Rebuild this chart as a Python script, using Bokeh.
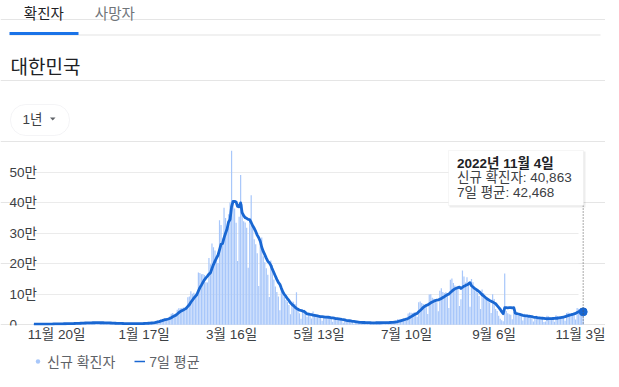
from bokeh.plotting import figure
from bokeh.layouts import column
from bokeh.models import (Range1d, FixedTicker, Label, BoxAnnotation, PolyAnnotation,
                          Arrow, Legend, LegendItem, ColumnDataSource, Grid)
from bokeh.embed import file_html
from bokeh.resources import INLINE

# day index 0 = 2021-11-05 ... 364 = 2022-11-04
new_cases = [
    2224, 2247, 1758, 1715, 2425, 2520, 2368,
    2324, 2419, 2006, 2125, 3187, 3292, 3034,
    3206, 3120, 2827, 2699, 4116, 3938, 3899,
    4068, 3928, 3308, 3032, 5123, 5266, 4944,
    5352, 5128, 4325, 4954, 7175, 7102, 7022,
    6977, 6689, 5817, 5567, 7850, 7622, 7435,
    7314, 6236, 5318, 5202, 7456, 6919, 6233,
    5842, 5419, 4207, 3865, 5409, 5037, 4875,
    4415, 3833, 3129, 3024, 4444, 4126, 3713,
    3511, 3376, 3007, 3097, 4388, 4167, 4542,
    4423, 4194, 3859, 4071, 5805, 6603, 6769,
    7009, 7630, 7513, 8571, 13012, 14518, 16096,
    17542, 17528, 18342, 20270, 20269, 22907, 27443,
    36362, 38691, 35286, 36719, 49567, 54121, 53926,
    54941, 56431, 54619, 57177, 90443, 93135, 109831,
    102211, 104829, 95362, 99573, 171452, 170016, 165890,
    166209, 163566, 139626, 138993, 219241, 198803, 266853,
    254327, 243628, 210716, 202721, 342446, 327549, 282987,
    383665, 350190, 309790, 362338, 400741, 571000, 407017,
    381454, 334708, 209169, 353980, 490881, 395598, 339514,
    335580, 318130, 187213, 347554, 424641, 320743, 280273,
    264171, 234301, 127190, 266135, 286294, 224820, 205333,
    185566, 164481, 90928, 210755, 195419, 148443, 125846,
    107916, 93001, 47743, 118504, 111319, 90867, 81058,
    75449, 64725, 34370, 76787, 75322, 68213, 107000,
    50568, 37771, 20087, 51131, 49064, 42296, 26714,
    40064, 38310, 20601, 43925, 35904, 32451, 29581,
    27000, 25500, 13300, 29600, 28100, 26300, 23900,
    22700, 20300, 9900, 23900, 23400, 18800, 16600,
    15900, 13900, 7100, 17500, 15800, 13300, 9900,
    9300, 7800, 3800, 11000, 9900, 8500, 7400,
    7200, 6000, 3000, 9000, 8200, 7000, 6300,
    6000, 5500, 3400, 9900, 8500, 7500, 6800,
    6500, 6200, 3400, 10400, 9500, 9100, 8900,
    10700, 10000, 6200, 18100, 19300, 18500, 19300,
    20400, 20300, 12700, 37300, 40200, 39100, 38900,
    41300, 40300, 26300, 73600, 76400, 71100, 68600,
    65400, 65100, 35800, 99300, 100300, 88400, 85300,
    82000, 73600, 44700, 111800, 119900, 107900, 103900,
    107000, 98000, 55300, 148000, 151800, 137200, 128700,
    124500, 119500, 62000, 84100, 178000, 158000, 138800,
    156000, 139000, 59000, 150500, 139300, 113300, 110100,
    104000, 94700, 52000, 115800, 103900, 90600, 81500,
    83000, 73500, 38800, 99800, 84600, 52000, 45000,
    30000, 20000, 15000, 12000, 168000, 45000, 38000,
    35000, 33000, 18000, 42000, 40000, 35000, 30000,
    30000, 28000, 14000, 36000, 35000, 30000, 27000,
    25000, 22000, 11000, 20000, 30000, 25000, 22000,
    20000, 18000, 9000, 11000, 30000, 28000, 25000,
    23000, 20000, 10000, 31000, 29000, 26000, 24000,
    27000, 25000, 13000, 39000, 40000, 37000, 35000,
    37000, 33000, 17000, 55000, 53000, 52000, 47000,
    40863,
]

avg_7day = [
    2000, 2030, 2060, 2080, 2110, 2150, 2180,
    2190, 2220, 2250, 2310, 2420, 2530, 2630,
    2750, 2850, 2970, 3050, 3190, 3280, 3400,
    3520, 3640, 3710, 3760, 3900, 4090, 4240,
    4420, 4590, 4740, 5010, 5310, 5570, 5870,
    6100, 6320, 6530, 6620, 6720, 6790, 6850,
    6900, 6830, 6760, 6710, 6650, 6550, 6380,
    6170, 6060, 5900, 5710, 5410, 5140, 4950,
    4750, 4520, 4370, 4250, 4110, 3980, 3810,
    3680, 3620, 3600, 3610, 3600, 3610, 3730,
    3860, 3970, 4100, 4230, 4440, 4780, 5100,
    5470, 5960, 6480, 7130, 8160, 9290, 10620,
    12130, 13540, 15090, 16760, 17790, 18990, 20610,
    23300, 26330, 28750, 31100, 35280, 39740, 43520,
    46180, 48710, 51470, 54400, 60240, 65810, 73790,
    80550, 87460, 93280, 99340, 110910, 121890, 129900,
    139050, 147440, 153760, 159390, 166220, 170330, 184750,
    197340, 208780, 218930, 228040, 245640, 264030, 266340,
    284820, 300020, 314150, 336960, 345280, 387250, 404970,
    404650, 402440, 388070, 386870, 399750, 367500, 357860,
    351350, 349000, 345840, 344920, 335460, 324770, 316300,
    306100, 294100, 285600, 273900, 254200, 240500, 229800,
    218500, 208500, 203400, 195500, 182500, 171600, 160200,
    149100, 138900, 132700, 119500, 107500, 99300, 92900,
    86000, 80000, 72000, 67000, 63000, 58000, 54000,
    51000, 48000, 47000, 45000, 44000, 40000, 36000,
    35000, 34000, 33500, 32000, 31000, 30000, 29000,
    28000, 27000, 26500, 26000, 25500, 25000, 24800,
    24000, 23000, 22500, 21500, 20500, 20000, 19400,
    18500, 17500, 17000, 16000, 14800, 14000, 13300,
    12500, 11500, 11000, 10300, 9500, 8800, 8200,
    7900, 7600, 7500, 7200, 7000, 6800, 6700,
    6500, 6500, 6600, 6700, 6700, 6800, 6800,
    6900, 7000, 7000, 7100, 7300, 7500, 7700,
    8300, 8800, 9200, 10300, 11700, 13000, 14600,
    16000, 17400, 18300, 21000, 24000, 26900, 29800,
    32700, 35500, 37500, 42700, 47000, 51600, 56800,
    60300, 63800, 65100, 68800, 72200, 74900, 77100,
    79500, 80700, 81900, 83700, 86500, 89300, 92000,
    95600, 99000, 100500, 105600, 110200, 114400, 118000,
    120000, 122000, 123500, 119000, 123000, 126500, 128500,
    131000, 134000, 138000, 128000, 124000, 119500, 116000,
    112500, 109000, 104000, 98500, 95000, 90500, 86000,
    83000, 80000, 77500, 75000, 72000, 69000, 63000,
    57000, 51000, 43000, 36500, 56000, 56500, 55500,
    56000, 56500, 55500, 56000, 38000, 37000, 35500,
    34000, 32500, 31000, 30000, 29500, 29000, 28000,
    27500, 27000, 25500, 24500, 24000, 23000, 22500,
    22000, 21500, 21000, 20000, 19800, 20000, 20300,
    20500, 20700, 20800, 21500, 21500, 22500, 23500,
    24500, 25500, 26500, 28500, 30000, 31500, 33000,
    34000, 36000, 37500, 40500, 43000, 44500, 44000,
    42468,
]

days = list(range(len(new_cases)))

x_tick_days = [15, 73, 131, 189, 247, 305, 363]
x_tick_labels = ["11월 20일", "1월 17일", "3월 16일", "5월 13일", "7월 10일", "9월 6일", "11월 3일"]
y_tick_values = [0, 100000, 200000, 300000, 400000, 500000]
y_tick_labels = ["0", "10만", "20만", "30만", "40만", "50만"]

tab_labels = ["확진자", "사망자"]
region_title = "대한민국"
range_label = "1년"
tooltip_title = "2022년 11월 4일"
tooltip_lines = ["신규 확진자: 40,863", "7일 평균: 42,468"]
legend_labels = ["신규 확진자", "7일 평균"]

FONT = "Liberation Sans, Noto Sans CJK KR"
BAR = "#a8c7fa"
LINE = "#1967d2"
TXT = "#3c4043"

W = 605
MAIN_H = 345          # frame covers rows 0..325, x axis below
PX_PER_DAY = 1.509
PX_PER_UNIT = 30.5 / 100000.0
X0 = 33.4             # pixel of day 0
BASE = 324.3          # pixel row of value 0
FRAME_B = 325

x_start = -X0 / PX_PER_DAY
x_end = x_start + W / PX_PER_DAY
y_start = -(FRAME_B - BASE) / PX_PER_UNIT
y_end = y_start + FRAME_B / PX_PER_UNIT


def sy(page_y):
    """screen units (from frame bottom) for a pixel row of the page"""
    return FRAME_B - page_y


src = ColumnDataSource(data=dict(day=days, cases=new_cases, avg=avg_7day))

p = figure(width=W, height=MAIN_H, output_backend="svg", toolbar_location=None,
           x_range=Range1d(x_start, x_end), y_range=Range1d(y_start, y_end),
           y_axis_location=None,
           min_border_left=0, min_border_right=0, min_border_top=0,
           min_border_bottom=MAIN_H - FRAME_B)
p.outline_line_color = None
p.background_fill_color = "white"
p.border_fill_color = "white"
p.xgrid.visible = False

grid_kw = dict(dimension=1, ticker=FixedTicker(ticks=y_tick_values),
               grid_line_color="#ebebeb", grid_line_width=1)
try:
    grid = Grid(cross_bounds=(-0.27, 360.9), **grid_kw)
except Exception:
    grid = Grid(**grid_kw)
p.add_layout(grid)

ax = p.xaxis[0]
ax.ticker = FixedTicker(ticks=x_tick_days)
ax.major_label_overrides = {d: l for d, l in zip(x_tick_days, x_tick_labels)}
ax.axis_line_color = None
ax.major_tick_line_color = None
ax.minor_tick_line_color = None
ax.major_tick_out = 0
ax.major_tick_in = 0
ax.major_label_standoff = 1
ax.major_label_text_font = FONT
ax.major_label_text_font_size = "13.5px"
ax.major_label_text_color = TXT

for v, t in zip(y_tick_values, y_tick_labels):
    p.add_layout(Label(x=9, y=v, x_units="screen", y_units="data", text=t,
                       text_baseline="middle", text_align="left", text_font=FONT,
                       text_font_size="13.5px", text_color=TXT))

p.vbar(x="day", top="cases", width=0.8, fill_color=BAR, line_color=None, source=src)
p.line(x="day", y="avg", line_color=LINE, line_width=2.8, line_join="round", source=src)
p.scatter(x=[days[-1]], y=[avg_7day[-1]], size=8, fill_color=LINE, line_color=LINE)

# hover guide + tooltip
p.add_layout(Arrow(x_start=days[-1], y_start=(BASE - 205) / PX_PER_UNIT,
                   x_end=days[-1], y_end=y_start,
                   start_units="data", end_units="data", end=None,
                   line_color="#555555", line_width=1, line_dash="1 2"))


def box(l, r, t, b, **kw):
    return BoxAnnotation(left=l, right=r, top=sy(t), bottom=sy(b),
                         left_units="screen", right_units="screen",
                         top_units="screen", bottom_units="screen", **kw)


p.add_layout(box(449, 585, 151, 207, fill_color="#000000", fill_alpha=0.07, line_color=None))
p.add_layout(box(448, 583, 150, 205, fill_color="white", fill_alpha=1,
                 line_color="#e0e0e0", line_width=1))
p.add_layout(Label(x=456.5, y=sy(162.7), x_units="screen", y_units="screen", text=tooltip_title,
                   text_baseline="middle", text_font=FONT, text_font_size="13.5px",
                   text_font_style="bold", text_color="#202124"))
for i, t in enumerate(tooltip_lines):
    p.add_layout(Label(x=456.5, y=sy(177.3 + 14.5 * i), x_units="screen", y_units="screen",
                       text=t, text_baseline="middle", text_font=FONT,
                       text_font_size="13.5px", text_color=TXT))

# header: tabs, title, range pill
p.add_layout(Label(x=23.3, y=sy(13), x_units="screen", y_units="screen", text=tab_labels[0],
                   text_baseline="middle", text_font=FONT, text_font_size="14.5px",
                   text_color="#202124"))
p.add_layout(Label(x=94.3, y=sy(13), x_units="screen", y_units="screen", text=tab_labels[1],
                   text_baseline="middle", text_font=FONT, text_font_size="14.5px",
                   text_color="#70757a"))
p.add_layout(box(9, 600, 34, 35, fill_color="#e3e3e3", fill_alpha=1, line_color=None))
p.add_layout(box(9, 78, 31.5, 34.5, fill_color="#1a73e8", fill_alpha=1, line_color=None))
p.add_layout(Label(x=10, y=sy(67), x_units="screen", y_units="screen", text=region_title,
                   text_baseline="middle", text_font=FONT, text_font_size="19px",
                   text_color="#202124"))
p.add_layout(box(10, 69, 104, 135, fill_alpha=0, line_color="#dadce0", line_width=1,
                 border_radius=15))
p.add_layout(Label(x=22, y=sy(119), x_units="screen", y_units="screen", text=range_label,
                   text_baseline="middle", text_font=FONT, text_font_size="13.5px",
                   text_color=TXT))
p.add_layout(PolyAnnotation(xs=[49.5, 55, 52.25], ys=[sy(117), sy(117), sy(120)],
                            xs_units="screen", ys_units="screen",
                            fill_color="#5f6368", fill_alpha=1, line_color=None))

# legend strip
LEG_H = 35
q = figure(width=W, height=LEG_H, output_backend="svg", toolbar_location=None,
           x_range=Range1d(0, 1), y_range=Range1d(0, 1),
           x_axis_location=None, y_axis_location=None,
           min_border_left=0, min_border_right=0, min_border_top=0, min_border_bottom=0)
q.outline_line_color = None
q.xgrid.visible = False
q.ygrid.visible = False
# legend-only renderers: their points sit outside the visible range
dot_r = q.scatter(x=[-10], y=[-10], size=6, fill_color=BAR, line_color=None)
dash_r = q.line(x=[-10, -9], y=[-10, -10], line_color=LINE, line_width=1.5)
legend = Legend(items=[LegendItem(label=legend_labels[0], renderers=[dot_r]),
                       LegendItem(label=legend_labels[1], renderers=[dash_r])],
                location=(32, 9), orientation="horizontal",
                glyph_width=11, glyph_height=14, label_height=14, label_standoff=4,
                spacing=19, padding=0, margin=0,
                border_line_alpha=0, background_fill_alpha=0,
                label_text_font=FONT, label_text_font_size="14px", label_text_color="#5f6368")
q.add_layout(legend)

layout = column(p, q, spacing=0)
open("out.html", "w").write(file_html(layout, INLINE))
